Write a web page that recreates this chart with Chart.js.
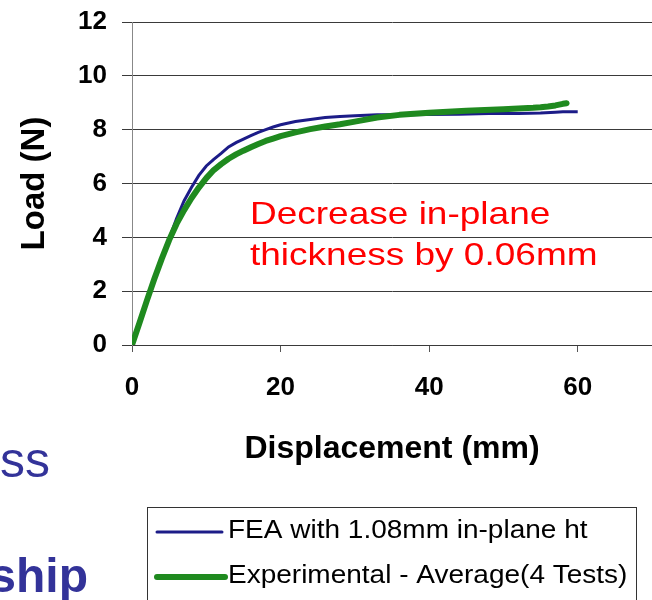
<!DOCTYPE html>
<html><head><meta charset="utf-8">
<script src="https://cdn.jsdelivr.net/npm/chart.js@4.4.1/dist/chart.umd.min.js"></script>
<style>html,body{margin:0;padding:0;background:#fff;overflow:hidden}#wrap{position:relative;width:652px;height:600px}</style>
</head><body><div id="wrap"><canvas id="c" width="652" height="600"></canvas></div>
<script>
// ---- data ----
const xTicks = [0, 20, 40, 60];
const yTicks = [0, 2, 4, 6, 8, 10, 12];
const feaX = [0,1,2,3,4,5,6,7,8,9,10,11,12,13,14,15,16,17,18,19,20,22,24,26,28,30,33,36,40,44,48,52,55,57,58,60];
const feaY = [0,0.85,1.7,2.45,3.15,3.95,4.7,5.35,5.85,6.3,6.65,6.9,7.12,7.36,7.52,7.65,7.78,7.9,8.0,8.1,8.18,8.3,8.38,8.45,8.49,8.52,8.55,8.55,8.56,8.57,8.6,8.6,8.62,8.65,8.67,8.67];
const expX = [0,1,2,3,4,5,6,7,8,9,10,11,12,13,14,15,16,17,18,19,20,22,24,26,28,30,33,36,40,45,50,54,55,56,57,58,58.5];
const expY = [0,0.82,1.65,2.45,3.2,3.9,4.5,5.0,5.45,5.85,6.2,6.5,6.72,6.92,7.08,7.22,7.35,7.47,7.58,7.67,7.76,7.9,8.02,8.12,8.2,8.3,8.45,8.55,8.63,8.7,8.76,8.81,8.83,8.86,8.9,8.96,8.98];
const seriesLabels = ["FEA with 1.08mm in-plane ht", "Experimental - Average(4 Tests)"];
const annotationLines = ["Decrease in-plane", "thickness by 0.06mm"];
const xTitle = "Displacement (mm)";
const yTitle = "Load (N)";
const slideText = ["ess", "ship"];

const FONT = '"Liberation Sans", Arial, sans-serif';
const BLUE = '#1c1c88';
const GREEN = '#1f8a1f';

function pts(xs, ys){ return xs.map((x,i)=>({x:x, y:ys[i]})); }

function drawText(ctx, text, x, base, font, color, sy, align){
  ctx.save();
  ctx.font = font; ctx.fillStyle = color; ctx.textAlign = align || 'left'; ctx.textBaseline = 'alphabetic';
  ctx.translate(x, base); ctx.scale(1, sy || 1);
  ctx.fillText(text, 0, 0);
  ctx.restore();
}

const extras = {
  id: 'extras',
  afterDraw(chart){
    const ctx = chart.ctx;
    const ds = chart.data.datasets;
    // annotation
    drawText(ctx, annotationLines[0], 250, 224, '37px ' + FONT, '#ff0000', 0.86);
    drawText(ctx, annotationLines[1], 250, 265, '37px ' + FONT, '#ff0000', 0.86);
    // slide text fragments
    drawText(ctx, slideText[0], 50, 477, '50px ' + FONT, '#333399', 1, 'right');
    drawText(ctx, slideText[1], 88, 592, 'bold 48px ' + FONT, '#333399', 1, 'right');
    // legend box
    ctx.save();
    ctx.fillStyle = '#fff';
    ctx.fillRect(147.5, 507.5, 489, 120);
    ctx.strokeStyle = '#333'; ctx.lineWidth = 1;
    ctx.strokeRect(147.5, 507.5, 489, 120);
    const items = [ds.find(d=>d.label===seriesLabels[0]), ds.find(d=>d.label===seriesLabels[1])];
    const rows = [{y:532, base:538, x2:222}, {y:577, base:583, x2:225}];
    items.forEach((d,i)=>{
      ctx.beginPath();
      ctx.strokeStyle = d.borderColor; ctx.lineWidth = d.borderWidth; ctx.lineCap = 'round';
      ctx.moveTo(157, rows[i].y); ctx.lineTo(rows[i].x2, rows[i].y); ctx.stroke();
      drawText(ctx, d.label, 228, rows[i].base, '28px ' + FONT, '#000', 0.92);
    });
    ctx.restore();
  }
};

new Chart(document.getElementById('c'), {
  type: 'line',
  data: {
    datasets: [
      { label: seriesLabels[0], data: pts(feaX, feaY), borderColor: BLUE, borderWidth: 3, pointRadius: 0, tension: 0, fill: false, order: 1 },
      { label: seriesLabels[1], data: pts(expX, expY), borderColor: GREEN, borderWidth: 6, pointRadius: 0, tension: 0, fill: false, order: 0, borderCapStyle: 'round', borderJoinStyle: 'round' }
    ]
  },
  options: {
    responsive: false, animation: false, devicePixelRatio: 1,
    layout: { padding: { left: 0, right: 0, top: 22, bottom: 0 } },
    plugins: { legend: { display: false }, tooltip: { enabled: false } },
    scales: {
      x: {
        type: 'linear', min: 0, max: 70,
        afterBuildTicks: s => { s.ticks = xTicks.map(v => ({ value: v })); },
        afterFit: s => { s.height = 255; s.paddingLeft = 0; s.paddingRight = 0; },
        ticks: { font: { family: FONT, size: 26, weight: 'bold' }, color: '#000', padding: 20, maxRotation: 0 },
        grid: { drawOnChartArea: false, drawTicks: true, tickLength: 7, color: '#555' },
        border: { display: true, color: '#3a3a3a' },
        title: { display: true, text: xTitle, font: { family: FONT, size: 32, weight: 'bold' }, color: '#000', padding: { top: 0, bottom: 132 } }
      },
      y: {
        type: 'linear', min: 0, max: 12,
        afterBuildTicks: s => { s.ticks = yTicks.map(v => ({ value: v })); },
        afterFit: s => { s.width = 132; s.paddingTop = 0; s.paddingBottom = 0; },
        ticks: { font: { family: FONT, size: 26, weight: 'bold' }, color: '#000', padding: 15 },
        grid: { color: '#3a3a3a', tickLength: 10, lineWidth: 1 },
        border: { display: true, color: '#888' },
        title: { display: true, text: yTitle, font: { family: FONT, size: 33, weight: 'bold' }, color: '#000', padding: { top: 15, bottom: 0 } }
      }
    }
  },
  plugins: [extras]
});
</script>
</body></html>
